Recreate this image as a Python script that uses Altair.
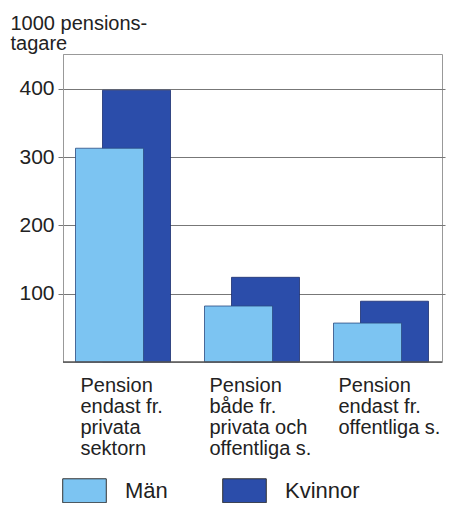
import altair as alt
import pandas as pd

categories = [
    "Pension|endast fr.|privata|sektorn",
    "Pension|både fr.|privata och|offentliga s.",
    "Pension|endast fr.|offentliga s.",
]
man = [313, 82, 57]
kvinnor = [398, 124, 89]
y_ticks = [100, 200, 300, 400]

rows = []
for c, m, k in zip(categories, man, kvinnor):
    rows.append({"kat": c, "kon": "Män", "antal": m})
    rows.append({"kat": c, "kon": "Kvinnor", "antal": k})
df = pd.DataFrame(rows)

color = alt.Color(
    "kon:N",
    scale=alt.Scale(domain=["Män", "Kvinnor"], range=["#7CC4F2", "#2B4DAA"]),
    legend=alt.Legend(
        title=None,
        orient="none",
        legendX=-1,
        legendY=414,
        direction="horizontal",
        symbolType="M-1,-0.55L1,-0.55L1,0.55L-1,0.55Z",
        symbolSize=1900,
        symbolStrokeColor="#333333",
        symbolStrokeWidth=1,
        labelFontSize=22,
        labelFont="Liberation Sans",
        labelColor="#222222",
        labelOffset=18,
        columnPadding=52,
        labelLimit=200,
    ),
)

x = alt.X(
    "kat:N",
    sort=categories,
    scale=alt.Scale(paddingInner=0, paddingOuter=0, range=[-5, 382]),
    axis=alt.Axis(
        title=None,
        labelAngle=0,
        labelAlign="left",
        labelBaseline="top",
        labelOffset=-42,
        labelPadding=13,
        labelExpr="split(datum.label, '|')",
        labelFontSize=20,
        labelLineHeight=21,
        labelFont="Liberation Sans",
        labelColor="#222222",
        ticks=False,
        domain=False,
    ),
)

y = alt.Y(
    "antal:Q",
    scale=alt.Scale(domain=[0, 451], nice=False),
    axis=alt.Axis(
        values=y_ticks,
        title=["1000 pensions-", "tagare"],
        titleAngle=0,
        titleAlign="left",
        titleBaseline="alphabetic",
        titleX=-53,
        titleY=-25,
        titleFontSize=20,
        titleLineHeight=20,
        titleFont="Liberation Sans",
        titleFontWeight="normal",
        titleColor="#222222",
        labelFontSize=21,
        labelFont="Liberation Sans",
        labelColor="#222222",
        labelPadding=9,
        ticks=False,
        gridColor="#777777",
        gridWidth=1,
        domainColor="#999999",
    ),
)

women = alt.Chart(df).transform_filter(alt.datum.kon == "Kvinnor").mark_bar(
    width=68, xOffset=14, stroke="#1c2f70", strokeWidth=0.8
).encode(x=x, y=y, color=color)

men = alt.Chart(df).transform_filter(alt.datum.kon == "Män").mark_bar(
    width=68, xOffset=-13, stroke="#2a4a80", strokeWidth=0.8
).encode(x=x, y=y, color=color)

baseline = alt.Chart(pd.DataFrame({"v": [0]})).mark_rule(
    color="#555555", strokeWidth=1.5
).encode(y=alt.Y("v:Q"), x=alt.value(0), x2=alt.value(379))

chart = alt.layer(women, men, baseline).properties(
    width=379,
    height=308,
    autosize=alt.AutoSizeParams(type="none"),
    padding={"left": 55, "top": 46, "right": 4, "bottom": 141},
).configure_view(stroke="#999999", strokeWidth=1)

chart.save("out.html", embed_options={"renderer": "svg", "actions": False})
